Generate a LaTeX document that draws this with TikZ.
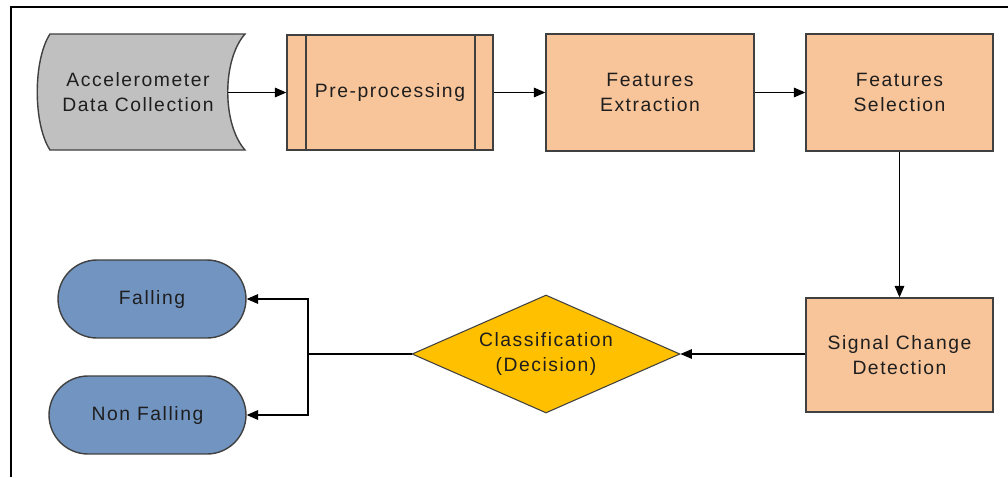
\documentclass[tikz,border=0pt]{standalone}
\usepackage{fontspec}
\setmainfont{Liberation Sans}[LetterSpace=8]
\usepackage{xcolor}
\usepackage{tikz}
\usetikzlibrary{positioning, arrows.meta, shapes.geometric}
\definecolor{edge}{HTML}{404040}
\definecolor{ink}{HTML}{1E1E1E}
\definecolor{peach}{HTML}{F8C49A}
\definecolor{store}{HTML}{C0C0C0}
\definecolor{outcome}{HTML}{7194C1}
\definecolor{gold}{HTML}{FFC000}

\begin{document}
\begin{tikzpicture}[
  x=0.02cm, y=-0.02cm,
  font=\fontsize{11}{14.2}\selectfont, text=ink,
  stepbox/.style={rectangle, draw=edge, fill=peach, line width=0.8pt, align=center, inner sep=0pt},
  endbox/.style={rectangle, rounded corners=0.78cm, draw=edge, fill=outcome, line width=0.8pt,
    minimum height=1.56cm, align=center, inner sep=0pt},
  choice/.style={diamond, aspect=2.27, draw=edge, fill=gold, line width=0.6pt,
    minimum width=5.36cm, minimum height=2.36cm, align=center, inner sep=0pt},
  flow/.style={draw=black, line width=0.6pt, -{Triangle[length=6.5pt, width=5.5pt]}},
  link/.style={draw=black, line width=0.6pt}
]
  \useasboundingbox (0,0) rectangle (1008,477);
  \draw[line width=1.3pt] (11,477) -- (11,7) -- (1008,7);

  \draw[draw=edge, fill=store, line width=0.8pt]
    (50,34) -- (245,34) .. controls (222,60) and (222,124) .. (245,150)
    -- (50,150) .. controls (33,124) and (33,60) .. (50,34) -- cycle;
  \node[align=center] (acq) at (138,92) {Accelerometer\\Data Collection};
  \coordinate (acqout) at (228,92.5);

  \node[stepbox, minimum width=4.12cm, minimum height=2.30cm] (pre) at (390,92.5) {Pre-processing};
  \draw[draw=edge, line width=1pt] ([xshift=0.40cm]pre.north west) -- ([xshift=0.40cm]pre.south west);
  \draw[draw=edge, line width=1pt] ([xshift=-0.38cm]pre.north east) -- ([xshift=-0.38cm]pre.south east);
  \node[stepbox, minimum width=4.16cm, minimum height=2.34cm] (fext) at (650,92.5) {Features\\Extraction};
  \node[stepbox, minimum width=3.74cm, minimum height=2.34cm] (fsel) at (899.5,92.5) {Features\\Selection};
  \node[stepbox, minimum width=3.74cm, minimum height=2.28cm] (sig) at (899.5,355) {Signal Change\\Detection};
  \node[choice] (cls) at (546,354) {Classification\\(Decision)};
  \node[endbox, minimum width=3.76cm] (fall) at (152,299) {Falling};
  \node[endbox, minimum width=3.94cm] (nofall) at (147.5,415) {Non Falling};
  \coordinate (split) at (308,354);

  \draw[flow] (acqout) -- (pre.west);
  \draw[flow] (pre.east) -- (fext.west);
  \draw[flow] (fext.east) -- (fsel.west);
  \draw[flow] (fsel.south) -- (sig.north);
  \draw[flow] (sig.west |- cls.east) -- (cls.east);
  \draw[link] (cls.west) -- (split);
  \draw[flow] (split) |- (fall.east);
  \draw[flow] (split) |- (nofall.east);
\end{tikzpicture}
\end{document}
